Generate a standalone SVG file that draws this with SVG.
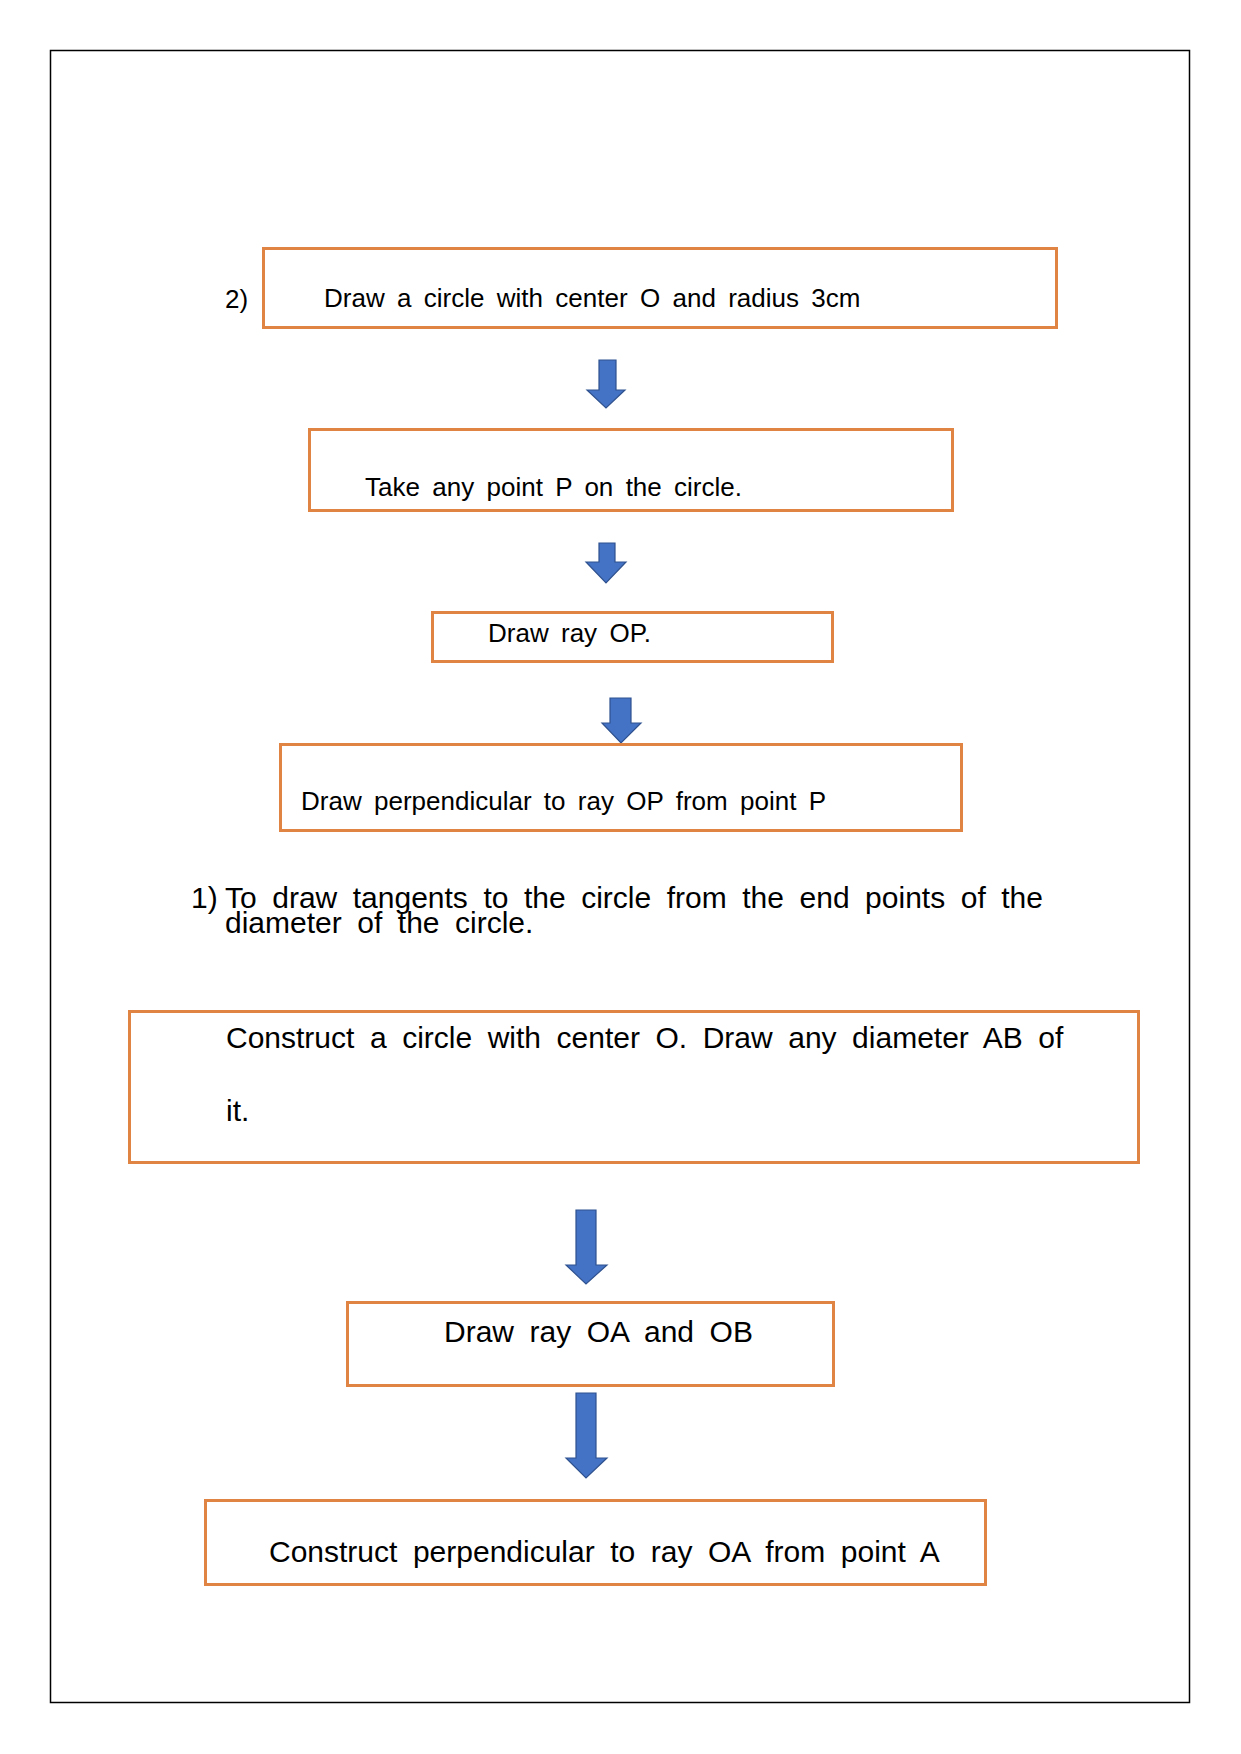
<svg xmlns="http://www.w3.org/2000/svg" width="1241" height="1754" viewBox="0 0 1241 1754">
<style>
.box{fill:none;stroke:#DF8443;stroke-width:3}
.arr{fill:#4472C4;stroke:#2F528F;stroke-width:1.2}
.t26{font-family:"Liberation Sans",Arial,sans-serif;font-size:26px;word-spacing:5.1px;fill:#000}
.t30{font-family:"Liberation Sans",Arial,sans-serif;font-size:30px;word-spacing:7.2px;fill:#000}
</style>
<rect x="0" y="0" width="1241" height="1754" fill="#fff"/>
<rect x="50.5" y="50.5" width="1139" height="1652" fill="none" stroke="#000" stroke-width="1.5"/>
<g id="connectors">
<polygon class="arr" points="599,360 616,360 616,390 625,390 606,408 587,390 599,390"/>
<polygon class="arr" points="599,543 615,543 615,562 626,562 606,583 586,562 599,562"/>
<polygon class="arr" points="610,698 631,698 631,723 641,723 621,743 602,723 610,723"/>
<polygon class="arr" points="576,1210 596,1210 596,1265 607,1265 586,1284 566,1265 576,1265"/>
<polygon class="arr" points="576,1393 596,1393 596,1458 607,1458 586,1478 566,1458 576,1458"/>
</g>
<g id="label2">
<text class="t26" x="225" y="308">2)</text>
</g>
<g id="n1">
<rect class="box" x="263.5" y="248.5" width="793" height="79"/>
<text class="t26" x="324" y="307">Draw a circle with center O and radius 3cm</text>
</g>
<g id="n2">
<rect class="box" x="309.5" y="429.5" width="643" height="81"/>
<text class="t26" x="365" y="496">Take any point P on the circle.</text>
</g>
<g id="n3">
<rect class="box" x="432.5" y="612.5" width="400" height="49"/>
<text class="t26" x="488" y="642">Draw ray OP.</text>
</g>
<g id="n4">
<rect class="box" x="280.5" y="744.5" width="681" height="86"/>
<text class="t26" x="301" y="810">Draw perpendicular to ray OP from point P</text>
</g>
<g id="heading">
<text class="t30" x="191" y="908">1)</text>
<text class="t30" x="225" y="908">To draw tangents to the circle from the end points of the</text>
<text class="t30" x="225" y="933">diameter of the circle.</text>
</g>
<g id="n5">
<rect class="box" x="129.5" y="1011.5" width="1009" height="151"/>
<text class="t30" x="226" y="1048">Construct a circle with center O. Draw any diameter AB of</text>
<text class="t30" x="226" y="1121">it.</text>
</g>
<g id="n6">
<rect class="box" x="347.5" y="1302.5" width="486" height="83"/>
<text class="t30" x="444" y="1342">Draw ray OA and OB</text>
</g>
<g id="n7">
<rect class="box" x="205.5" y="1500.5" width="780" height="84"/>
<text class="t30" x="269" y="1562">Construct perpendicular to ray OA from point A</text>
</g>
</svg>
